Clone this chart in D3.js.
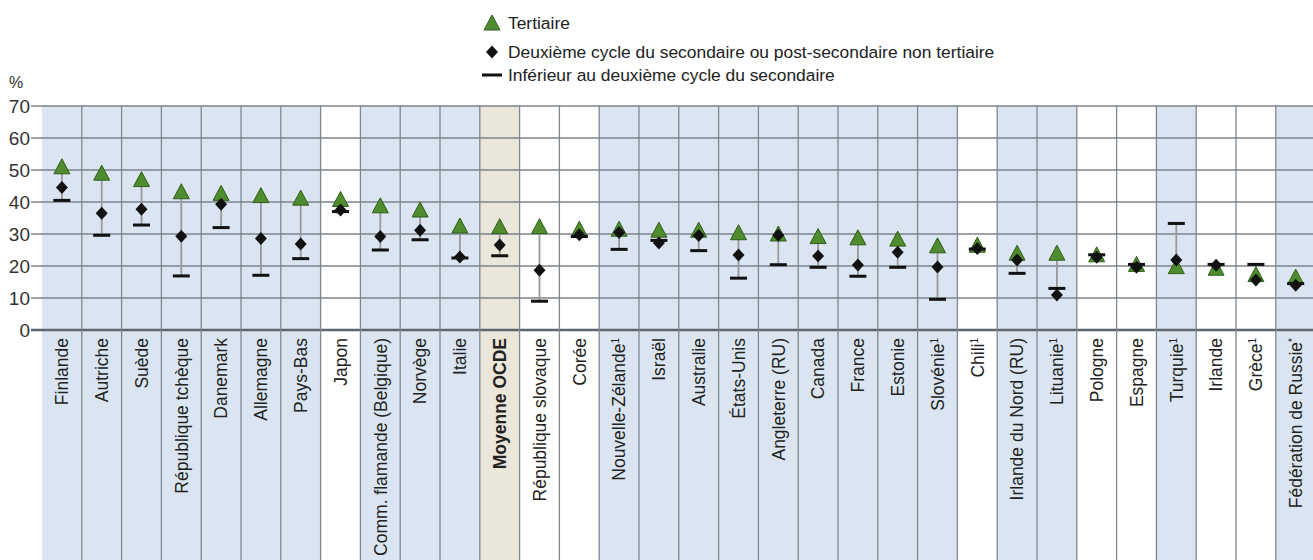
<!DOCTYPE html>
<html>
<head>
<meta charset="utf-8">
<script src="https://cdn.jsdelivr.net/npm/d3@7"></script>
<style>
  body { margin: 0; background: #fff; }
  svg { display: block; font-family: 'Liberation Sans', Arial, sans-serif; }
</style>
</head>
<body>
<script>
// Countries, in chart order
const countries = ['Finlande', 'Autriche', 'Suède', 'République tchèque', 'Danemark', 'Allemagne',
  'Pays-Bas', 'Japon', 'Comm. flamande (Belgique)', 'Norvège', 'Italie', 'Moyenne OCDE',
  'République slovaque', 'Corée', 'Nouvelle-Zélande', 'Israël', 'Australie', 'États-Unis',
  'Angleterre (RU)', 'Canada', 'France', 'Estonie', 'Slovénie', 'Chili', 'Irlande du Nord (RU)',
  'Lituanie', 'Pologne', 'Espagne', 'Turquie', 'Irlande', 'Grèce', 'Fédération de Russie'];

// Footnote marks after some names
const notes = ['', '', '', '', '', '', '', '', '', '', '', '', '', '', '1', '', '', '', '', '', '', '', '1',
  '1', '', '1', '', '', '1', '', '1', '*'];

// Columns drawn without the blue shading
const plainCols = ['Japon', 'République slovaque', 'Corée', 'Chili', 'Pologne', 'Espagne', 'Irlande', 'Grèce'];
const averageCol = 'Moyenne OCDE';

// Values (%)
const tertiary = [51, 49, 47, 43.2, 42.7, 42, 41.2, 40.8, 38.8, 37.5, 32.5, 32.3, 32.3, 31.5, 31.5, 31.2,
  31.2, 30.4, 30, 29.2, 28.8, 28.4, 26.3, 26.5, 24, 24, 23.5, 20.5, 19.8, 19.3, 17.3, 16.5];
const upperSec = [44.5, 36.5, 37.7, 29.3, 39.3, 28.6, 26.9, 37.5, 29.2, 31.2, 22.8, 26.6, 18.7, 29.8, 30.5,
  27.2, 29.5, 23.4, 29.6, 23.1, 20.3, 24.3, 19.7, 25.5, 21.9, 10.9, 22.7, 19.6, 21.9, 20.2, 15.6, 14];
const belowSec = [40.5, 29.6, 32.8, 16.9, 32, 17.1, 22.3, 37, 25, 28.2, 22.5, 23.2, 9, 29.2, 25.2, 28,
  24.8, 16.2, 20.4, 19.6, 16.8, 19.6, 9.6, 25.3, 17.7, 13, 23.5, 20.5, 33.3, 20.5, 20.5, 14.5];

const yTicks = [0, 10, 20, 30, 40, 50, 60, 70];

const legendItems = ['Tertiaire',
  'Deuxième cycle du secondaire ou post-secondaire non tertiaire',
  'Inférieur au deuxième cycle du secondaire'];

// SVG dimensions
const fullWidth = 1313;
const fullHeight = 560;
const margin = { top: 106, left: 42, bottom: 230 };

const rows = countries.map((c, i) => ({
  name: c, note: notes[i], ter: tertiary[i], upp: upperSec[i], low: belowSec[i]
}));

const svg = d3.select('body')
  .append('svg')
  .attr('width', fullWidth)
  .attr('height', fullHeight);

const x = d3.scaleBand()
  .domain(countries)
  .range([margin.left, margin.left + 32 * 39.8]);

const y = d3.scaleLinear()
  .domain([0, 70])
  .range([fullHeight - margin.bottom, margin.top]);

// Column shading
svg.append('g')
  .selectAll('rect')
  .data(countries)
  .enter()
  .append('rect')
  .attr('x', d => x(d))
  .attr('y', y(70))
  .attr('width', x.bandwidth())
  .attr('height', fullHeight - y(70))
  .style('fill', d => (d === averageCol ? '#ebe6da' : plainCols.includes(d) ? '#ffffff' : '#dbe5f1'));

// Horizontal grid + y axis
const yAxis = svg.append('g')
  .attr('transform', 'translate(31,0)')
  .call(d3.axisLeft(y).tickValues(yTicks).tickSize(0).tickPadding(1));
yAxis.select('.domain').remove();
yAxis.selectAll('text')
  .style('font-size', '19px')
  .style('fill', '#333')
  .attr('dy', '0.36em');

svg.append('g')
  .selectAll('line')
  .data(yTicks)
  .enter()
  .append('line')
  .attr('x1', 31)
  .attr('x2', fullWidth)
  .attr('y1', d => y(d))
  .attr('y2', d => y(d))
  .style('stroke', d => (d === 0 ? '#5f6670' : '#7d838b'))
  .style('stroke-width', d => (d === 0 ? 2.5 : 1.5));

// Column dividers
svg.append('g')
  .selectAll('line')
  .data(countries.slice(1))
  .enter()
  .append('line')
  .attr('x1', d => x(d))
  .attr('x2', d => x(d))
  .attr('y1', y(70))
  .attr('y2', fullHeight)
  .style('stroke', '#80868e')
  .style('stroke-width', 1.3);

svg.append('text')
  .attr('x', 9)
  .attr('y', 88)
  .style('font-size', '16px')
  .style('fill', '#333')
  .text('%');

// Markers
const triPath = 'M0,-8L8,7L-8,7Z';
const diaPath = 'M0,-6.5L6,0L0,6.5L-6,0Z';

const col = svg.append('g')
  .selectAll('g')
  .data(rows)
  .enter()
  .append('g')
  .attr('transform', d => `translate(${x(d.name) + x.bandwidth() / 2},0)`);

col.append('line')
  .attr('y1', d => y(Math.max(d.ter, d.upp, d.low)))
  .attr('y2', d => y(Math.min(d.ter, d.upp, d.low)))
  .style('stroke', '#999')
  .style('stroke-width', 1.8);

col.append('path')
  .attr('d', triPath)
  .attr('transform', d => `translate(0,${y(d.ter)})`)
  .style('fill', '#4f8c2d')
  .style('stroke', '#2f5d1c')
  .style('stroke-width', 1);

col.append('rect')
  .attr('x', -8.5)
  .attr('y', d => y(d.low) - 1.5)
  .attr('width', 17)
  .attr('height', 3)
  .style('fill', '#111');

col.append('path')
  .attr('d', diaPath)
  .attr('transform', d => `translate(0,${y(d.upp)})`)
  .style('fill', '#111');

// Category labels
const lab = col.append('text')
  .attr('transform', `translate(0,${y(0) + 8}) rotate(-90)`)
  .attr('text-anchor', 'end')
  .attr('dy', '0.36em')
  .style('font-size', '17.5px')
  .style('fill', '#222')
  .style('font-weight', d => (d.name === averageCol ? 'bold' : 'normal'));
lab.append('tspan').text(d => d.name);
lab.append('tspan')
  .attr('dy', '-0.6em')
  .style('font-size', '10px')
  .text(d => d.note);

// Legend
const leg = svg.append('g')
  .attr('transform', 'translate(492,0)');

leg.append('path')
  .attr('d', triPath)
  .attr('transform', 'translate(0,23)')
  .style('fill', '#4f8c2d')
  .style('stroke', '#2f5d1c');
leg.append('path')
  .attr('d', diaPath)
  .attr('transform', 'translate(0,52)')
  .style('fill', '#111');
leg.append('rect')
  .attr('x', -10)
  .attr('y', 73.5)
  .attr('width', 20)
  .attr('height', 3)
  .style('fill', '#111');

leg.selectAll('text')
  .data(legendItems)
  .enter()
  .append('text')
  .attr('x', 16)
  .attr('y', (d, i) => [29, 58, 81][i])
  .style('font-size', '17.4px')
  .style('fill', '#222')
  .text(d => d);
</script>
</body>
</html>
